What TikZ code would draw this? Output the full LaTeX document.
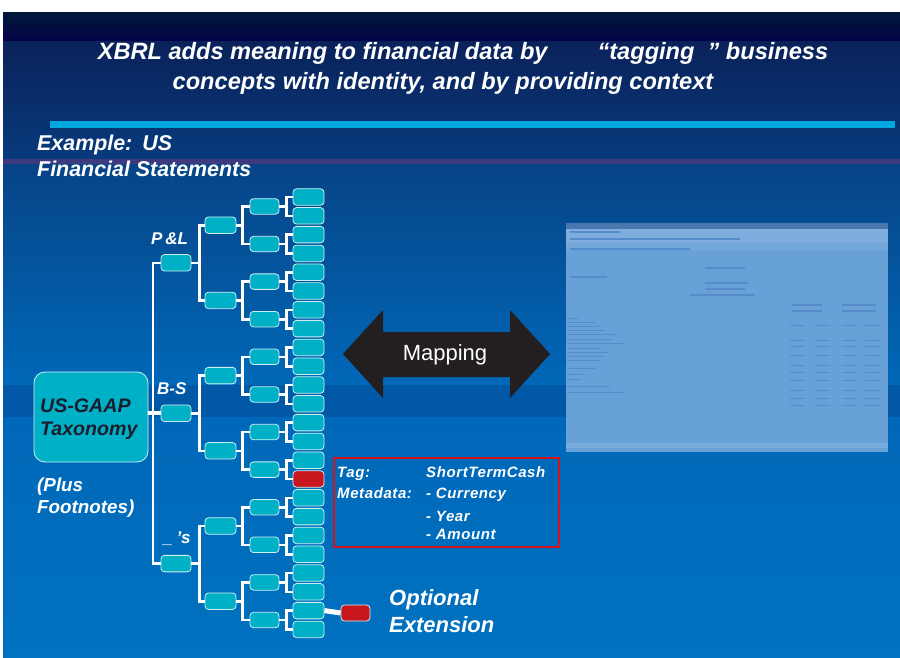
\documentclass[tikz,border=0pt]{standalone}
\usepackage{fontspec}
\setmainfont{Liberation Sans}
\definecolor{nodecyan}{RGB}{0,176,198}
\definecolor{tagred}{RGB}{200,22,30}
\definecolor{boxred}{RGB}{214,18,28}
\definecolor{barcyan}{RGB}{0,168,224}
\definecolor{bgA}{RGB}{0,26,58}
\definecolor{bgB}{RGB}{6,0,74}
\definecolor{bgC}{RGB}{10,34,90}
\definecolor{bgD}{RGB}{8,58,124}
\definecolor{bgE}{RGB}{4,90,160}
\definecolor{bgF}{RGB}{0,104,184}
\definecolor{bgBand}{RGB}{0,88,166}
\definecolor{bgG}{RGB}{0,114,192}
\definecolor{purp}{RGB}{62,58,128}
\definecolor{shotfill}{RGB}{104,160,216}
\definecolor{shotline}{RGB}{86,140,204}
\definecolor{darktext}{RGB}{28,28,44}
\definecolor{arrowblack}{RGB}{35,31,32}
\tikzset{
  ttl/.style={font=\bfseries\itshape\fontsize{23.6}{28}\selectfont, text=white, inner sep=0pt},
  lbl/.style={font=\bfseries\itshape\fontsize{21.4}{25}\selectfont, text=white, inner sep=0pt, anchor=base west},
  treelbl/.style={font=\bfseries\itshape\fontsize{17}{20}\selectfont, text=white, inner sep=0pt, anchor=base west},
  taglbl/.style={font=\bfseries\itshape\fontsize{15}{18}\selectfont\addfontfeature{LetterSpace=4}, text=white, inner sep=0pt, anchor=base west},
  extlbl/.style={font=\bfseries\itshape\fontsize{22}{26}\selectfont, text=white, inner sep=0pt, anchor=base west},
  tbox/.style={rectangle, rounded corners=3.5pt,
    fill=nodecyan, draw=white!80!nodecyan, line width=0.8pt, inner sep=0pt},
  leafbox/.style={tbox, minimum width=31pt, minimum height=16.5pt},
  l3box/.style={tbox, minimum width=29pt, minimum height=15.5pt},
  l2box/.style={tbox, minimum width=31pt, minimum height=16.5pt},
  l1box/.style={tbox, minimum width=30pt, minimum height=16.5pt},
  leafmod15/.style={fill=tagred},
  conn/.style={draw=white, line width=2.6pt},
  shot/.style={draw=shotline, line width=1.1pt},
}
\begin{document}
\begin{tikzpicture}[x=1pt,y=-1pt]
\useasboundingbox (0,0) rectangle (900,658);
% background
\fill[white] (0,0) rectangle (900,658);
\shade[top color=bgA, bottom color=bgB] (3,13) rectangle (900,42);
\shade[top color=bgC, bottom color=bgD] (3,42) rectangle (900,159);
\fill[purp] (3,159) rectangle (900,165);
\shade[top color=bgD!70!bgE, bottom color=bgF] (3,165) rectangle (900,385);
\fill[bgBand] (3,385) rectangle (900,417);
\shade[top color=bgF, bottom color=bgG] (3,417) rectangle (900,658);
\fill[barcyan] (50,121) rectangle (895,128);

% title
\node[ttl] (t1) at (463,53) {XBRL adds meaning to financial data by\hspace{50pt}“tagging\hspace{13pt}” business};
\node[ttl] (t2) at (443,83) {concepts with identity, and by providing context};

\node[lbl] (ex1) at (37,150) {Example:\hspace{10pt}US};
\node[lbl] (ex2) at (37,176) {Financial Statements};

% root
\node[rectangle, rounded corners=11pt,
  fill=nodecyan, draw=white!80!nodecyan, line width=0.8pt, minimum width=114pt, minimum height=90pt, inner sep=0pt]
  (root) at (91,417) {};
\node[font=\bfseries\itshape\fontsize{19.6}{23}\selectfont, text=darktext, inner sep=0pt, anchor=base west] (rt1) at (40,412) {US-GAAP};
\node[font=\bfseries\itshape\fontsize{19.6}{23}\selectfont, text=darktext, inner sep=0pt, anchor=base west] (rt2) at (40,435) {Taxonomy};
\node[lbl, font=\bfseries\itshape\fontsize{18.8}{22}\selectfont] (pl1) at (37,491) {(Plus};
\node[lbl, font=\bfseries\itshape\fontsize{18.8}{22}\selectfont] (pl2) at (37,513) {Footnotes)};

% tree nodes
\foreach \i in {0,...,23}{
  \pgfmathsetmacro\yy{197+18.8*\i}
  \node[leafbox, leafmod\i/.try] (leaf-\i) at (308.5,\yy) {};
}
\foreach \j in {0,...,11}{
  \pgfmathsetmacro\yy{197+18.8*(2*\j+0.5)}
  \node[l3box] (l3-\j) at (264.5,\yy) {};
}
\foreach \k in {0,...,5}{
  \pgfmathsetmacro\yy{197+18.8*(4*\k+1.5)}
  \node[l2box] (l2-\k) at (220.5,\yy) {};
}
\foreach \m in {0,...,2}{
  \pgfmathsetmacro\yy{197+18.8*(8*\m+3.5)}
  \node[l1box] (l1-\m) at (176,\yy) {};
}
% connectors
\foreach \j in {0,...,11}{
  \pgfmathtruncatemacro\ka{2*\j}
  \pgfmathtruncatemacro\kb{2*\j+1}
  \draw[conn] (l3-\j.east) -- ++(7,0) |- (leaf-\ka.west);
  \draw[conn] (l3-\j.east) -- ++(7,0) |- (leaf-\kb.west);
}
\foreach \k in {0,...,5}{
  \pgfmathtruncatemacro\ja{2*\k}
  \pgfmathtruncatemacro\jb{2*\k+1}
  \draw[conn] (l2-\k.east) -- ++(6,0) |- (l3-\ja.west);
  \draw[conn] (l2-\k.east) -- ++(6,0) |- (l3-\jb.west);
}
\foreach \m in {0,...,2}{
  \pgfmathtruncatemacro\ka{2*\m}
  \pgfmathtruncatemacro\kb{2*\m+1}
  \draw[conn] (l1-\m.east) -- ++(8,0) |- (l2-\ka.west);
  \draw[conn] (l1-\m.east) -- ++(8,0) |- (l2-\kb.west);
}
\coordinate (bus) at (153,0);
\draw[conn] (l1-0.west) -| (bus |- l1-1.west) |- (l1-2.west);
\draw[conn, line width=3.5pt] (root.east |- l1-1.west) -- (l1-1.west);

\node[treelbl] (lpl) at (151,244) {P\,\&L};
\node[treelbl] (lbs) at (157,394) {B-S};
\node[treelbl] (lss) at (163,543) {\_\hspace{4pt}’s};

% optional extension
\node[tbox, fill=tagred, minimum width=29pt, minimum height=16pt] (ext) at (355.5,613) {};
\draw[draw=white, line width=5pt] (leaf-22.east) -- (ext.west);
\node[extlbl] (opt1) at (389,605) {Optional};
\node[extlbl] (opt2) at (389,632) {Extension};

% tag box
\node[draw=boxred, line width=2pt, minimum width=225pt, minimum height=89pt, inner sep=0pt] (tagbox) at (446.5,502) {};
\node[taglbl] (tg1) at (337,477) {Tag:};
\node[taglbl] (tg2) at (426,477) {ShortTermCash};
\node[taglbl] (tg3) at (337,498) {Metadata:};
\node[taglbl] (tg4) at (426,498) {- Currency};
\node[taglbl] (tg5) at (426,521) {- Year};
\node[taglbl] (tg6) at (426,539) {- Amount};

% mapping arrow
\fill[arrowblack] (343,354) -- (383,310) -- (383,332) -- (510,332) -- (510,310) -- (550,354)
  -- (510,398) -- (510,377) -- (383,377) -- (383,398) -- cycle;
\node[font=\fontsize{22}{26}\selectfont, text=white, inner sep=0pt] (map) at (445,355) {Mapping};

% screenshot
\fill[shotfill] (566,223) rectangle (888,452);
\fill[shotline!85!black] (566,223) rectangle (888,229);
\fill[shotfill!85!white] (566,229) rectangle (888,243);
\fill[shotfill!92!white] (566,243) rectangle (888,250);
\fill[shotfill!88!white] (566,443) rectangle (888,448);
\draw[shot] (570,232) -- (620,232);
\draw[shot] (570,239) -- (740,239);
\draw[shot] (570,249) -- (690,249);
\draw[shot] (570,277) -- (607,277);
\draw[shot] (705,268) -- (745,268);
\draw[shot] (705,283) -- (748,283);
\draw[shot] (705,289) -- (745,289);
\draw[shot] (690,295) -- (755,295);
\foreach \yy in {305,311}{
  \draw[shot] (792,\yy) -- (822,\yy);
  \draw[shot] (842,\yy) -- (876,\yy);
}
\foreach \yy/\ln in {318/578,322/595,326/600,330/605,334/615,339/612,343/624,348/600,352/608,356/605,360/600,368/595,374/583,379/580,386/610,392/625}{
  \draw[shot, line width=0.8pt] (567,\yy) -- (\ln,\yy);
}
\foreach \yy in {325,340,346,355,365,372,380,390,398,405}{
  \draw[shot, line width=0.9pt] (790,\yy) -- (804,\yy);
  \draw[shot, line width=0.9pt] (815,\yy) -- (830,\yy);
  \draw[shot, line width=0.9pt] (842,\yy) -- (857,\yy);
  \draw[shot, line width=0.9pt] (865,\yy) -- (880,\yy);
}
\end{tikzpicture}
\end{document}
